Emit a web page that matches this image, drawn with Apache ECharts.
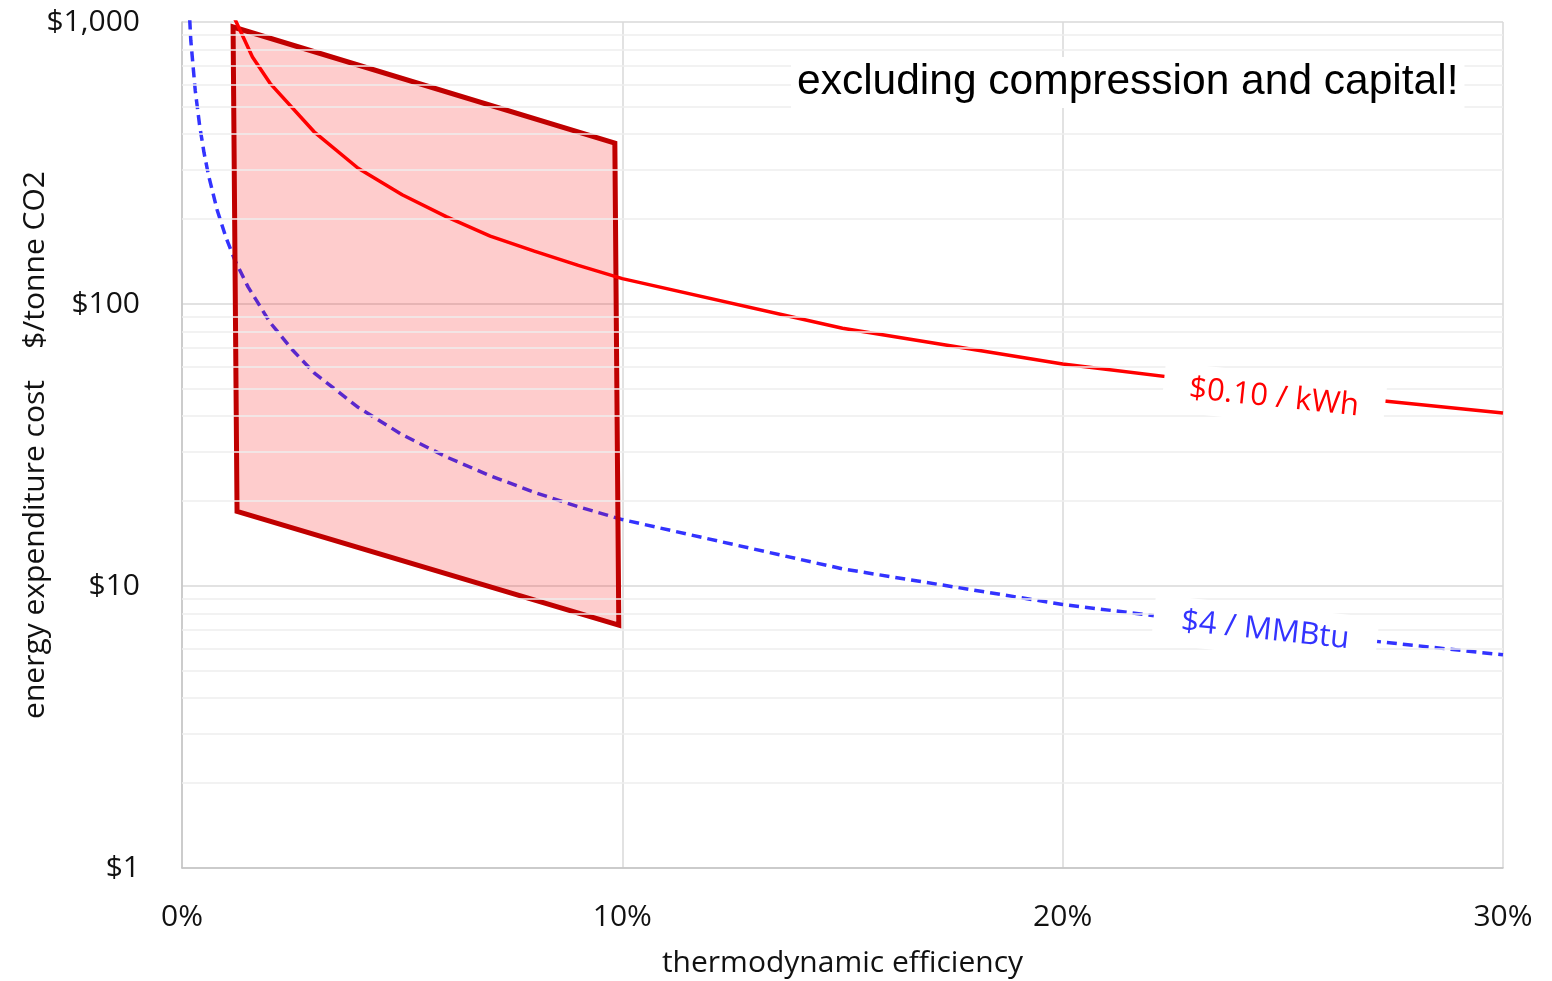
<!DOCTYPE html>
<html><head><meta charset="utf-8">
<script src="https://cdn.jsdelivr.net/npm/echarts@6/dist/echarts.min.js"></script>
<style>html,body{margin:0;padding:0;background:#fff}#c{width:1552px;height:981px}</style>
</head><body><div id="c"></div>
<script>
// ---- data ----
const xTicks = [0, 10, 20, 30];            // efficiency, %
const yTicks = [1, 10, 100, 1000];         // $/tonne CO2 (log)
const minorY = [2,3,4,5,6,7,8,9,20,30,40,50,60,70,80,90,200,300,400,500,600,700,800,900];

const elecEff  = [1.2, 1.6, 2, 3, 4, 5, 6, 7, 8, 9, 10, 15, 20, 25, 30];
const elecCost = [1025, 752, 606, 408, 303, 244, 204, 174, 154, 137, 123, 82, 61.3, 49.2, 41.1];

const gasEff  = [0.1, 0.2, 0.3, 0.4, 0.5, 0.6, 0.8, 1, 1.2, 1.5, 2, 2.5, 3, 4, 5, 6, 7, 8, 9, 10, 15, 20, 25, 30];
const gasCost = [1720, 860, 573, 430, 344, 287, 215, 172, 143, 115, 86, 69, 57, 43, 34.4, 28.7, 24.6, 21.5, 19.1, 17.2, 11.5, 8.6, 6.9, 5.7];

const boxEff  = [1.16, 9.83, 9.92, 1.25];
const boxCost = [960, 372, 7.27, 18.4];

const elecLabelText = '$0.10 / kWh';
const elecLabelAt = [24.8, 46.5];
const gasLabelText = '$4 / MMBtu';
const gasLabelAt = [24.6, 6.95];

const noteText = 'excluding compression and capital!';
const xName = 'thermodynamic efficiency';
const yName = 'energy expenditure cost    $/tonne CO2';

// ---- chart ----
const FONT = 'Open Sans';
const chart = echarts.init(document.getElementById('c'), null, {renderer: 'canvas'});
const zip = (a, b) => a.map((v, i) => [v, b[i]]);

chart.setOption({
  animation: false,
  backgroundColor: '#fff',
  title: {
    text: noteText, left: 791, top: 57, padding: [4, 6], backgroundColor: '#fff',
    textStyle: {fontFamily: 'Liberation Sans', fontSize: 42.5, fontWeight: 'normal', color: '#000'}
  },
  grid: {left: 182, right: 49, top: 22, bottom: 113, containLabel: false, outerBoundsMode: 'none'},
  xAxis: {
    type: 'value', min: xTicks[0], max: xTicks[xTicks.length - 1], interval: 10,
    axisLine: {show: true, onZero: false, lineStyle: {color: '#c4c4c4', width: 1.5}},
    axisTick: {show: false},
    splitLine: {show: true, lineStyle: {color: '#d9d9d9', width: 1.5}},
    axisLabel: {formatter: '{value}%', fontSize: 30, color: '#111', margin: 34, fontFamily: FONT},
    name: xName, nameLocation: 'middle', nameGap: 80, nameMoveOverlap: false,
    nameTextStyle: {fontSize: 30, color: '#111', fontFamily: FONT}
  },
  yAxis: {
    type: 'log', logBase: 10, min: yTicks[0], max: yTicks[yTicks.length - 1],
    axisLine: {show: true, lineStyle: {color: '#c4c4c4', width: 1.5}},
    axisTick: {show: false},
    splitLine: {show: true, lineStyle: {color: '#d9d9d9', width: 1.5}},
    axisLabel: {
      formatter: v => '$' + Math.round(v).toLocaleString('en-US'),
      fontSize: 30, color: '#111', margin: 42, fontFamily: FONT
    },
    name: yName, nameLocation: 'middle', nameGap: 132, nameMoveOverlap: false,
    nameTextStyle: {fontSize: 30, color: '#111', fontFamily: FONT}
  },
  series: [
    {
      type: 'line', data: [], z: 1, silent: true,
      markLine: {
        silent: true, symbol: 'none', label: {show: false}, animation: false,
        lineStyle: {color: '#eeeeee', width: 1.5, type: 'solid'},
        data: minorY.map(v => ({yAxis: v}))
      }
    },
    {
      name: '$4 / MMBtu', type: 'line', data: zip(gasEff, gasCost), z: 2,
      showSymbol: false, smooth: false, clip: true, silent: true,
      lineStyle: {color: '#3333ff', width: 3.5, type: [10, 6]}
    },
    {
      type: 'custom', coordinateSystem: 'cartesian2d', z: 3, silent: true,
      data: zip(boxEff, boxCost),
      renderItem: (params, api) => {
        if (params.dataIndex !== 0) return null;
        const pts = boxEff.map((e, i) => api.coord([e, boxCost[i]]));
        return {
          type: 'polygon', shape: {points: pts},
          style: {fill: 'rgba(250,0,0,0.2)', stroke: '#c00000', lineWidth: 5, lineJoin: 'miter'}
        };
      }
    },
    {
      name: '$0.10 / kWh', type: 'line', data: zip(elecEff, elecCost), z: 4,
      showSymbol: false, smooth: false, clip: true, silent: true,
      lineStyle: {color: '#ff0000', width: 3.5}
    },
    {
      type: 'scatter', data: [elecLabelAt], symbolSize: 0, z: 5, silent: true,
      itemStyle: {opacity: 1},
      label: {
        show: true, position: 'inside', formatter: () => elecLabelText, rotate: -6,
        color: '#ff0000', fontSize: 31, fontFamily: FONT, opacity: 1,
        backgroundColor: '#ffffff', padding: [9, 26]
      }
    },
    {
      type: 'scatter', data: [gasLabelAt], symbolSize: 0, z: 5, silent: true,
      itemStyle: {opacity: 1},
      label: {
        show: true, position: 'inside', formatter: () => gasLabelText, rotate: -6,
        color: '#3333ff', fontSize: 31, fontFamily: FONT, opacity: 1,
        backgroundColor: '#ffffff', padding: [9, 28]
      }
    }
  ]
});
</script>
</body></html>
